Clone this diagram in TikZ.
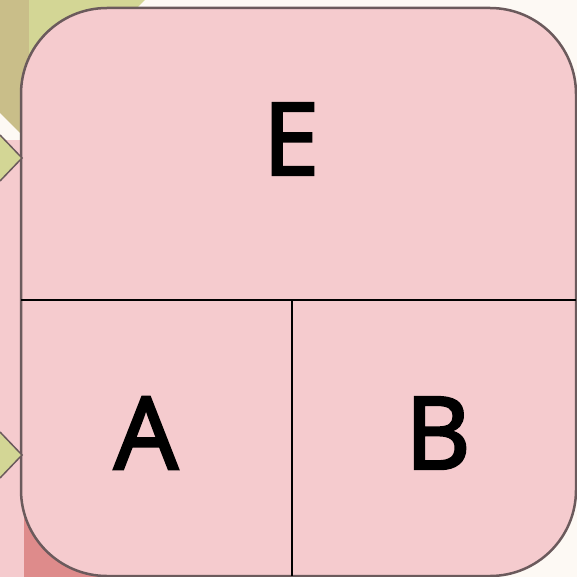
\documentclass[tikz,border=0pt]{standalone}
\usepackage{fontspec}
\setmainfont{Open Sans}
\newfontfamily\cellfont{Open Sans}[FakeBold=3]
\usetikzlibrary{positioning}
\definecolor{paper}{HTML}{FDF9F4}
\definecolor{khaki}{HTML}{C9BE89}
\definecolor{leaf}{HTML}{D3D695}
\definecolor{blush}{HTML}{F5CBCE}
\definecolor{rosy}{HTML}{DE8B8B}
\definecolor{rim}{HTML}{6B5A5C}

\begin{document}
\begin{tikzpicture}[x=1pt, y=-1pt,
        cell/.style={font=\cellfont\fontsize{100}{100}\selectfont, text=black, inner sep=0pt},
        divider/.style={black, line width=2.4pt},
        tiphead/.style={fill=leaf, draw=rim, line width=1.5pt, line join=miter}]
        \useasboundingbox (0,0) rectangle (577,577);
        % background pieces of the surrounding diagram
        \fill[paper] (0,0) rectangle (577,577);
        \fill[khaki] (0,0) -- (29,0) -- (29,142) -- (0,113) -- cycle;
        \fill[leaf] (29,0) -- (145,0) -- (29,116) -- cycle;
        \fill[blush] (0,140) rectangle (30,577);
        \fill[rosy] (24,513) rectangle (110,577);
        % the block
        \coordinate (NW) at (21,8);
        \coordinate (SE) at (576,576);
        \draw[rim, fill=blush, line width=2.5pt, rounded corners=86pt] (NW) rectangle (SE);
        \coordinate (L) at (21,300);
        \coordinate (R) at (576,300);
        \coordinate (T) at (292,300);
        \coordinate (D) at (292,576);
        \draw[divider] (L) -- (R);
        \draw[divider] (T) -- (D);
        \node[cell] (E) at (291,139) {E};
        \node[cell] (A) at (146,433) {A};
        \node[cell] (B) at (438,433) {B};
        % incoming arrow tips
        \coordinate (inE) at (22,158);
        \coordinate (inA) at (22,455);
        \draw[tiphead] (0,135) -- (inE) -- (0,181);
        \draw[tiphead] (0,432) -- (inA) -- (0,478);
    \end{tikzpicture}
\end{document}
